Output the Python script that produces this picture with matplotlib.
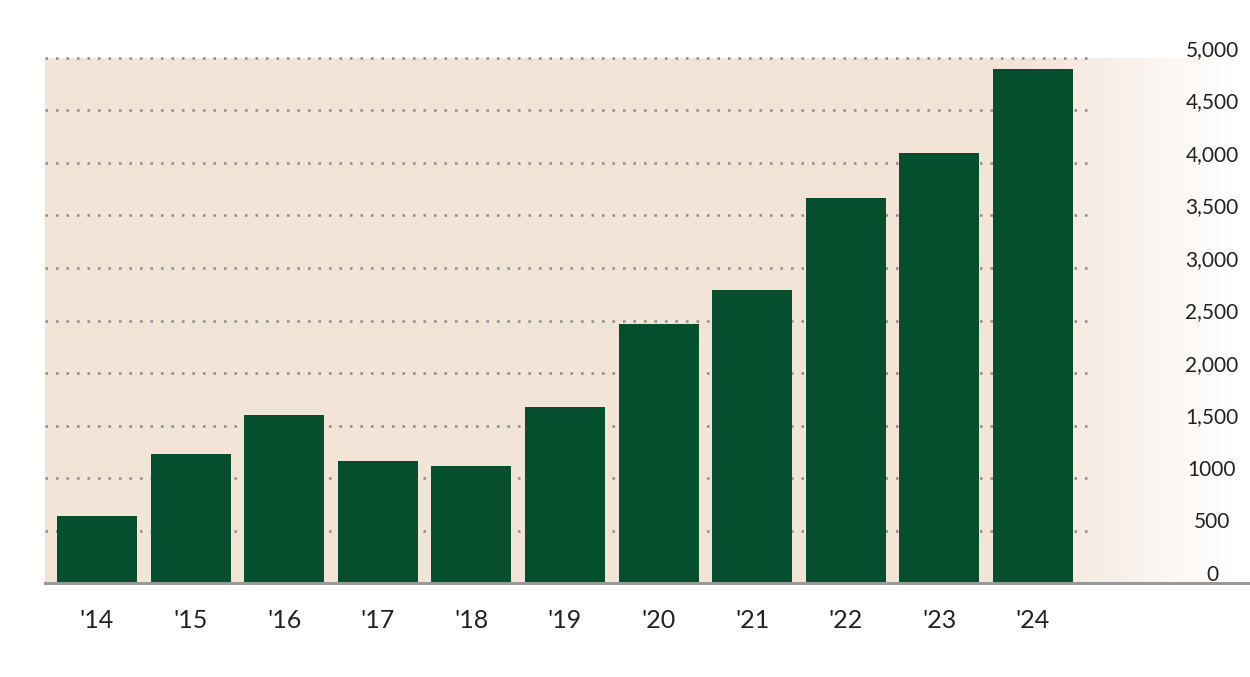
import matplotlib.pyplot as plt
import numpy as np
from matplotlib.colors import LinearSegmentedColormap

years = ["'14", "'15", "'16", "'17", "'18", "'19", "'20", "'21", "'22", "'23", "'24"]
values = [640, 1230, 1600, 1160, 1115, 1675, 2465, 2790, 3665, 4095, 4895]
yticks = [0, 500, 1000, 1500, 2000, 2500, 3000, 3500, 4000, 4500, 5000]
ytick_labels = ['0', '500', '1000', '1,500', '2,000', '2,500', '3,000',
                '3,500', '4,000', '4,500', '5,000']

W, H = 1250, 677
fig = plt.figure(figsize=(12.5, 6.77), dpi=100)
ax = fig.add_axes([0, 0, 1, 1])
ax.axis('off')

# pixel <-> data mapping
step = 93.6
x0 = 97
ppu = 0.105  # pixels per unit
base = 583
px = lambda p: (p - x0) / step
ax.set_xlim(px(0), px(W))
ax.set_ylim(-(H - base) / ppu, base / ppu)

# beige background fading to white on the right
grad = np.ones((2, 400))
fade = np.clip((np.arange(400) / 399 * (1250 - 45) + 45 - 1030) / 200, 0, 1)
grad[:] = fade
cmap = LinearSegmentedColormap.from_list('bg', ['#f2e5d8', '#ffffff'])
ax.imshow(grad, cmap=cmap, aspect='auto', extent=(px(45), px(W), 0, 5000),
          vmin=0, vmax=1, zorder=0)

for t in yticks[1:]:
    ax.plot([px(45), px(1095)], [t, t], color='#8a8a8a', linestyle=(0, (1, 3.2)),
            linewidth=1.8, zorder=1)

ax.bar(range(len(years)), values, width=80 / step, color='#064f2e', zorder=2)
ax.plot([px(45), px(W)], [0, 0], color='#999999', linewidth=2.2, zorder=3)

for t, lab in zip(yticks, ytick_labels):
    ax.text(px(1212), t + 8 / ppu, lab, ha='center', va='center',
            fontsize=15, family='Lato', color='#222222')
for i, y in enumerate(years):
    ax.text(i, -(620 - base) / ppu, y, ha='center', va='center',
            fontsize=18, family='Lato', color='#222222')

fig.savefig('out.png', dpi=100)
